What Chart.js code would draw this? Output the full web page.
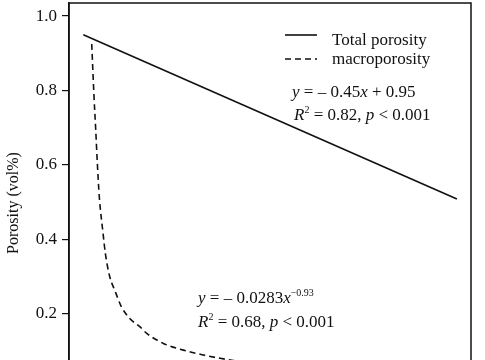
<!DOCTYPE html>
<html>
<head>
<meta charset="utf-8">
<script src="https://cdn.jsdelivr.net/npm/chart.js@4/dist/chart.umd.min.js"></script>
<style>
  html, body { margin: 0; padding: 0; background: #fff; overflow: hidden; width: 485px; height: 360px; }
  canvas { position: absolute; left: 0; top: 0; }
</style>
</head>
<body>
<canvas id="c" width="485" height="400"></canvas>
<script>
// Data
const seriesLabels = ['Total porosity', 'macroporosity'];
const totalX = [0.0, 0.981];
const totalY = [0.950, 0.509];
const macroX = [0.0221, 0.0281, 0.0326, 0.0368, 0.0420, 0.0518, 0.0578, 0.0694, 0.0825, 0.0998, 0.1219, 0.1482, 0.1666, 0.2102, 0.2627, 0.3153, 0.3592, 0.438];
const macroY = [0.925, 0.783, 0.694, 0.605, 0.514, 0.417, 0.363, 0.300, 0.264, 0.220, 0.188, 0.166, 0.148, 0.121, 0.103, 0.090, 0.081, 0.068];
const yTicks = [0.0, 0.2, 0.4, 0.6, 0.8, 1.0];
const yTitle = 'Porosity (vol%)';
const eq1 = [[{t:'y',i:1},{t:' = – 0.45'},{t:'x',i:1},{t:' + 0.95'}],
             [{t:'R',i:1},{t:'2',s:1},{t:' = 0.82, '},{t:'p',i:1},{t:' < 0.001'}]];
const eq2 = [[{t:'y',i:1},{t:' = – 0.0283'},{t:'x',i:1},{t:'−0.93',s:1}],
             [{t:'R',i:1},{t:'2',s:1},{t:' = 0.68, '},{t:'p',i:1},{t:' < 0.001'}]];

const FONT = '"Liberation Serif", "Times New Roman", serif';
const toPts = (xs, ys) => xs.map((x, k) => ({x: x, y: ys[k]}));

function drawRich(ctx, segs, x, y, size) {
  let cx = x;
  segs.forEach(sg => {
    const fs = sg.s ? Math.round(size * 0.6) : size;
    ctx.font = (sg.i ? 'italic ' : '') + fs + 'px ' + FONT;
    const dy = sg.s ? -size * 0.42 : 0;
    ctx.fillText(sg.t, cx, y + dy);
    cx += ctx.measureText(sg.t).width;
  });
}

const decor = {
  id: 'decor',
  afterDraw(chart) {
    const ctx = chart.ctx, a = chart.chartArea;
    ctx.save();
    // frame
    ctx.strokeStyle = '#111';
    ctx.lineWidth = 1.5;
    ctx.strokeRect(a.left, a.top, a.right - a.left, a.bottom - a.top);
    // y-axis title
    ctx.save();
    ctx.translate(13.5, 203);
    ctx.rotate(-Math.PI / 2);
    ctx.font = '16px ' + FONT;
    ctx.fillStyle = '#111';
    ctx.textAlign = 'center';
    ctx.textBaseline = 'middle';
    ctx.fillText(yTitle, 0, 0);
    ctx.restore();
    // legend
    ctx.fillStyle = '#111';
    ctx.textBaseline = 'alphabetic';
    const ds = chart.data.datasets;
    const rows = [[35, 45], [59, 64]];
    ds.forEach((d, k) => {
      ctx.beginPath();
      ctx.setLineDash(d.borderDash || []);
      ctx.lineWidth = d.borderWidth;
      ctx.strokeStyle = d.borderColor;
      ctx.moveTo(285, rows[k][0]);
      ctx.lineTo(317, rows[k][0]);
      ctx.stroke();
      ctx.setLineDash([]);
      ctx.font = '17px ' + FONT;
      ctx.fillText(d.label, 332, rows[k][1]);
    });
    // equations
    drawRich(ctx, eq1[0], 292, 97, 17);
    drawRich(ctx, eq1[1], 294, 120, 17);
    drawRich(ctx, eq2[0], 198, 303, 17);
    drawRich(ctx, eq2[1], 198, 327, 17);
    ctx.restore();
  }
};

new Chart(document.getElementById('c'), {
  type: 'scatter',
  data: {
    datasets: [
      { label: seriesLabels[0], data: toPts(totalX, totalY), showLine: true,
        borderColor: '#111', borderWidth: 1.6, pointRadius: 0, fill: false },
      { label: seriesLabels[1], data: toPts(macroX, macroY), showLine: true,
        borderColor: '#111', borderWidth: 1.6, borderDash: [6, 4], pointRadius: 0,
        cubicInterpolationMode: 'monotone', fill: false }
    ]
  },
  options: {
    responsive: false,
    animation: false,
    devicePixelRatio: 1,
    layout: { padding: { top: 3, right: 14, bottom: 11.5, left: 0 } },
    plugins: { legend: { display: false }, tooltip: { enabled: false } },
    scales: {
      x: {
        type: 'linear', min: -0.0376, max: 1.018,
        ticks: { display: false },
        grid: { display: false, drawTicks: false },
        border: { display: false },
        afterFit(s) { s.height = 0; s.paddingLeft = 0; s.paddingRight = 0; }
      },
      y: {
        type: 'linear', min: 0, max: 1.035,
        afterBuildTicks(s) { s.ticks = yTicks.map(v => ({ value: v })); },
        ticks: {
          color: '#111', padding: 5,
          font: { family: FONT, size: 17 },
          callback: v => Number(v).toFixed(1)
        },
        grid: { display: true, drawOnChartArea: false, drawTicks: true, tickLength: 7, color: '#111', lineWidth: 1.2 },
        border: { display: true, color: '#111', width: 1.5 },
        title: { display: false },
        afterFit(s) { s.width = 69; s.paddingTop = 0; s.paddingBottom = 0; }
      }
    }
  },
  plugins: [decor]
});
</script>
</body>
</html>
